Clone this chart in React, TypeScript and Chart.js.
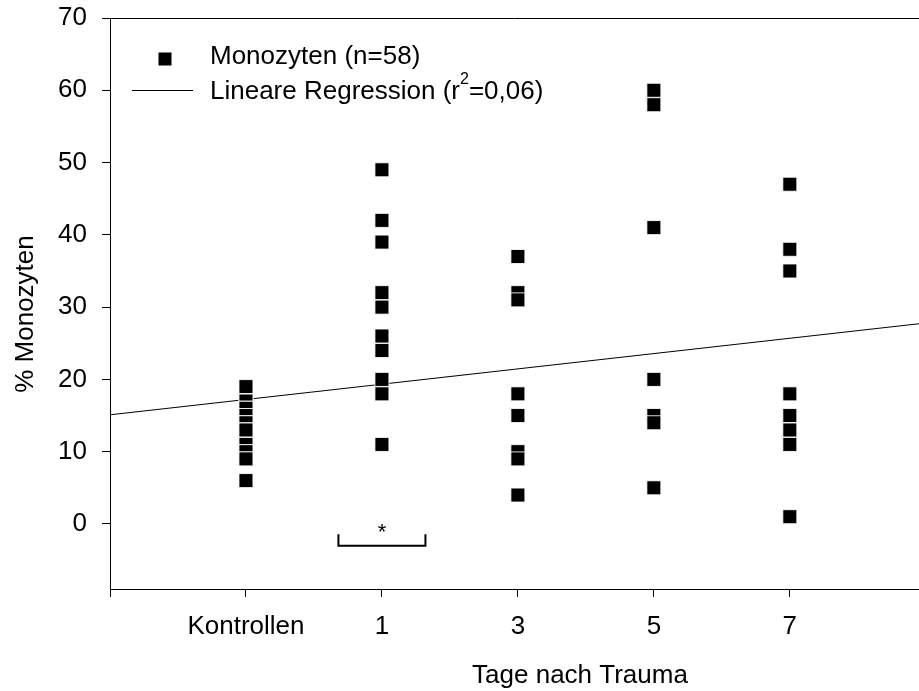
import { useEffect, useRef } from 'react';
import { Chart, registerables } from 'chart.js';

Chart.register(...registerables);

// ---- data ----
const xTickValues = [-1, 0, 1, 2, 3, 4];
const xTickLabels = ['', 'Kontrollen', '1', '3', '5', '7'];
const yTickValues = [0, 10, 20, 30, 40, 50, 60, 70];

const kontrollen = [19, 17, 17, 16, 16, 16, 15, 15, 15, 15, 14, 14, 14, 13, 13, 13, 11, 11, 11, 10, 10, 10, 9, 9, 6];
const tag1 = [49, 42, 39, 32, 30, 26, 24, 20, 18, 11];
const tag3 = [37, 32, 31, 18, 15, 10, 9, 4];
const tag5 = [60, 58, 41, 20, 15, 14, 5];
const tag7 = [47, 38, 35, 18, 15, 13, 11, 1];
const groups = [kontrollen, tag1, tag3, tag5, tag7];

const regressionX = [-1, 4.95];
const regressionY = [15.1, 27.7];

const bracketX = [0.68, 1.32];
const bracketY = [-3.0, -1.44];

const legendPoints = 'Monozyten (n=58)';
const legendLineA = 'Lineare Regression (r';
const legendLineSup = '2';
const legendLineB = '=0,06)';
const xTitle = 'Tage nach Trauma';
const yTitle = '% Monozyten';

const FONT = '"Liberation Sans", Arial, sans-serif';

const zeroPadding = (s: any) => {
  s.paddingTop = 0;
  s.paddingBottom = 0;
  s.paddingLeft = 0;
  s.paddingRight = 0;
};

const overlay = {
  id: 'overlay',
  afterDatasetsDraw(chart: any) {
    const { ctx, chartArea, scales } = chart;
    const x = scales.x;
    const y = scales.y;
    ctx.save();
    ctx.strokeStyle = '#000';
    ctx.fillStyle = '#000';
    // top frame line
    ctx.lineWidth = 1;
    const ty = Math.round(chartArea.top) + 0.5;
    ctx.beginPath();
    ctx.moveTo(chartArea.left, ty);
    ctx.lineTo(chartArea.right, ty);
    ctx.stroke();

    // significance bracket
    const bx0 = x.getPixelForValue(bracketX[0]);
    const bx1 = x.getPixelForValue(bracketX[1]);
    const byBottom = y.getPixelForValue(bracketY[0]);
    const byTop = y.getPixelForValue(bracketY[1]);
    ctx.lineWidth = 2;
    ctx.beginPath();
    ctx.moveTo(bx0, byTop);
    ctx.lineTo(bx0, byBottom);
    ctx.lineTo(bx1, byBottom);
    ctx.lineTo(bx1, byTop);
    ctx.stroke();
    ctx.font = `22px ${FONT}`;
    ctx.textAlign = 'center';
    ctx.textBaseline = 'alphabetic';
    ctx.fillText('*', (bx0 + bx1) / 2, byTop + 5);

    // legend
    ctx.fillRect(158.5, 52.5, 13, 13);
    ctx.font = `26px ${FONT}`;
    ctx.textAlign = 'left';
    ctx.fillText(legendPoints, 210, 63.5);
    ctx.lineWidth = 1;
    ctx.beginPath();
    ctx.moveTo(132, 90.5);
    ctx.lineTo(193, 90.5);
    ctx.stroke();
    ctx.fillText(legendLineA, 210, 98.5);
    let wx = 210 + ctx.measureText(legendLineA).width;
    ctx.font = `16px ${FONT}`;
    ctx.fillText(legendLineSup, wx, 84);
    wx += ctx.measureText(legendLineSup).width;
    ctx.font = `26px ${FONT}`;
    ctx.fillText(legendLineB, wx, 98.5);

    // axis titles
    ctx.textAlign = 'center';
    ctx.fillText(xTitle, 580, 683);
    ctx.save();
    ctx.translate(33, 314);
    ctx.rotate(-Math.PI / 2);
    ctx.fillText(yTitle, 0, 0);
    ctx.restore();

    ctx.restore();
  },
};

export default function App() {
  const canvasRef = useRef<HTMLCanvasElement | null>(null);

  useEffect(() => {
    if (!canvasRef.current) return;
    const points = groups.flatMap((vals, i) => vals.map((v) => ({ x: i, y: v })));
    const regression = regressionX.map((xv, i) => ({ x: xv, y: regressionY[i] }));

    const chart = new Chart(canvasRef.current, {
      type: 'scatter',
      data: {
        datasets: [
          {
            type: 'line',
            label: 'Lineare Regression',
            data: regression,
            borderColor: '#000',
            borderWidth: 1,
            pointRadius: 0,
            fill: false,
            tension: 0,
            order: 2,
          } as any,
          {
            label: 'Monozyten',
            data: points,
            pointStyle: 'rect',
            pointRadius: 9.9,
            backgroundColor: '#000',
            borderColor: 'rgba(255,255,255,0.85)',
            borderWidth: 1,
            order: 1,
          },
        ],
      },
      options: {
        animation: false,
        responsive: false,
        maintainAspectRatio: false,
        devicePixelRatio: 1,
        layout: { autoPadding: false, padding: { top: 18, right: 0, left: 0, bottom: 0 } },
        plugins: { legend: { display: false }, tooltip: { enabled: false } },
        scales: {
          x: {
            type: 'linear',
            min: -1,
            max: 4.95,
            afterFit: (s: any) => {
              s.height = 102;
              zeroPadding(s);
            },
            afterBuildTicks: (s: any) => {
              s.ticks = xTickValues.map((v) => ({ value: v }));
            },
            ticks: {
              callback: (v: any) => {
                const i = xTickValues.indexOf(Number(v));
                return i >= 0 ? xTickLabels[i] : '';
              },
              color: '#000',
              font: { family: FONT, size: 26 },
              padding: 14,
              autoSkip: false,
              maxRotation: 0,
              minRotation: 0,
            },
            grid: { drawOnChartArea: false, drawTicks: true, tickLength: 8, color: '#000', lineWidth: 1 },
            border: { display: true, color: '#000', width: 1 },
          },
          y: {
            type: 'linear',
            min: -9,
            max: 70,
            afterFit: (s: any) => {
              s.width = 110;
              zeroPadding(s);
            },
            afterBuildTicks: (s: any) => {
              s.ticks = yTickValues.map((v) => ({ value: v }));
            },
            ticks: {
              callback: (v: any) => String(v),
              color: '#000',
              font: { family: FONT, size: 26 },
              padding: 15,
              autoSkip: false,
            },
            grid: { drawOnChartArea: false, drawTicks: true, tickLength: 8, color: '#000', lineWidth: 1 },
            border: { display: true, color: '#000', width: 1 },
          },
        },
      },
      plugins: [overlay],
    });
    return () => chart.destroy();
  }, []);

  return (
    <div style={{ position: 'fixed', left: 0, top: 0, width: 919, height: 691, background: '#fff' }}>
      <canvas ref={canvasRef} width={919} height={691} style={{ display: 'block', width: 919, height: 691 }} />
    </div>
  );
}
